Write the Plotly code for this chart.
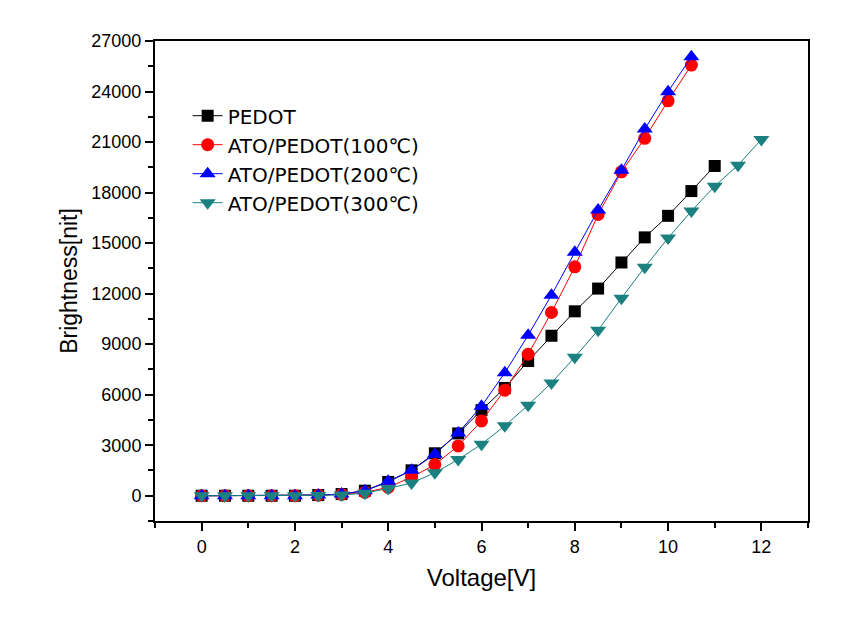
import plotly.graph_objects as go

x_pedot = [0, 0.5, 1, 1.5, 2, 2.5, 3, 3.5, 4, 4.5, 5, 5.5, 6, 6.5, 7, 7.5, 8, 8.5, 9, 9.5, 10, 10.5, 11]
y_pedot = [0, 0, 0, 0, 0, 40, 100, 300, 820, 1510, 2520, 3700, 5080, 6400, 8000, 9500, 10950, 12300, 13850, 15340, 16620, 18090, 19580]

x_100 = [0, 0.5, 1, 1.5, 2, 2.5, 3, 3.5, 4, 4.5, 5, 5.5, 6, 6.5, 7, 7.5, 8, 8.5, 9, 9.5, 10, 10.5]
y_100 = [0, 0, 0, 0, 0, 30, 80, 200, 500, 1100, 1850, 2960, 4440, 6270, 8400, 10880, 13590, 16700, 19230, 21220, 23450, 25570]

x_200 = [0, 0.5, 1, 1.5, 2, 2.5, 3, 3.5, 4, 4.5, 5, 5.5, 6, 6.5, 7, 7.5, 8, 8.5, 9, 9.5, 10, 10.5]
y_200 = [0, 0, 0, 0, 0, 40, 100, 300, 860, 1510, 2460, 3730, 5320, 7300, 9530, 11910, 14450, 16960, 19330, 21770, 23990, 26060]

x_300 = [0, 0.5, 1, 1.5, 2, 2.5, 3, 3.5, 4, 4.5, 5, 5.5, 6, 6.5, 7, 7.5, 8, 8.5, 9, 9.5, 10, 10.5, 11, 11.5, 12]
y_300 = [0, 0, 0, 0, 0, 20, 50, 150, 430, 760, 1360, 2150, 3060, 4150, 5380, 6700, 8230, 9830, 11730, 13570, 15300, 16900, 18380, 19630, 21150]

x_ticks = [0, 2, 4, 6, 8, 10, 12]
y_ticks = [0, 3000, 6000, 9000, 12000, 15000, 18000, 21000, 24000, 27000]

names = ["PEDOT", "ATO/PEDOT(100℃)", "ATO/PEDOT(200℃)", "ATO/PEDOT(300℃)"]
colors = ["#000000", "#FF0000", "#0000FF", "#1A8080"]
symbols = ["square", "circle", "triangle-up", "triangle-down"]
sizes = [12, 13, 14, 14]
xs = [x_pedot, x_100, x_200, x_300]
ys = [y_pedot, y_100, y_200, y_300]

fig = go.Figure()
for xv, yv, n, c, s, sz in zip(xs, ys, names, colors, symbols, sizes):
    fig.add_trace(go.Scatter(
        x=xv, y=yv, name=n, mode="lines+markers",
        line=dict(color=c, width=1),
        marker=dict(symbol=s, color=c, size=sz, line=dict(width=0)),
    ))

fig.update_layout(
    width=854, height=630,
    paper_bgcolor="white", plot_bgcolor="white",
    margin=dict(l=147, r=54, t=33, b=117),
    font=dict(family="Liberation Sans, Arial, Noto Sans CJK KR", color="black"),
    legend=dict(
        x=0.05, y=0.885, xanchor="left", yanchor="top",
        bgcolor="rgba(0,0,0,0)",
        font=dict(size=20, family="DejaVu Sans, Liberation Sans, Noto Sans CJK KR"),
        tracegroupgap=0, itemwidth=30,
    ),
    showlegend=True,
)
fig.update_xaxes(
    range=[-1, 13], tickmode="array", tickvals=x_ticks,
    ticks="outside", ticklen=8, tickwidth=1.5, tickcolor="black",
    minor=dict(tickvals=[-1, 1, 3, 5, 7, 9, 11, 13], ticks="outside", ticklen=5, tickwidth=1.5, tickcolor="black"),
    showline=True, linecolor="black", linewidth=2, mirror=True,
    showgrid=False, zeroline=False,
    tickfont=dict(size=18),
    title=dict(text="Voltage[V]", font=dict(size=24), standoff=14),
)
fig.update_yaxes(
    range=[-1500, 27000], tickmode="array",
    tickvals=y_ticks, tickformat="d",
    ticks="outside", ticklen=8, tickwidth=1.5, tickcolor="black",
    minor=dict(tickvals=[-1500, 1500, 4500, 7500, 10500, 13500, 16500, 19500, 22500, 25500], ticks="outside", ticklen=5, tickwidth=1.5, tickcolor="black"),
    showline=True, linecolor="black", linewidth=2, mirror=True,
    showgrid=False, zeroline=False,
    tickfont=dict(size=18),
    title=dict(text="Brightness[nit]", font=dict(size=23), standoff=7),
)

fig.write_html("out.html")
